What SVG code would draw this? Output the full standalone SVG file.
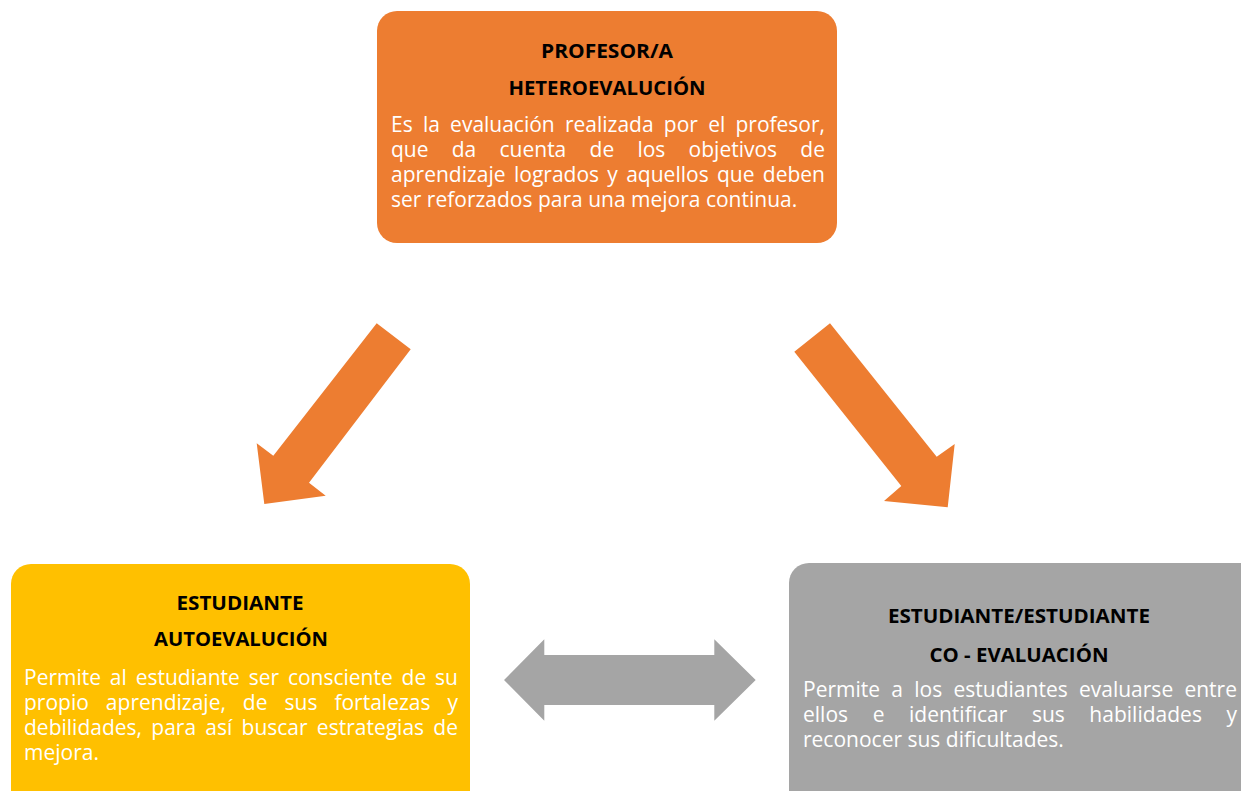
<svg xmlns="http://www.w3.org/2000/svg" width="1241" height="791" viewBox="0 0 1241 791">
<style>
.title{font-family:"Open Sans","Liberation Sans",sans-serif;font-weight:bold;font-size:20px;fill:#000;text-anchor:middle}
.body{font-family:"Open Sans","Liberation Sans",sans-serif;font-size:21px;fill:#fff}
.orange{fill:#ED7D31}
.gray{fill:#A5A5A5}
</style>
<rect width="1241" height="791" fill="#fff"/>
<g id="node-profesor">
<rect x="377" y="11" width="460" height="232" rx="20" class="orange"/>
<text class="title" x="607" y="58" textLength="132" lengthAdjust="spacingAndGlyphs">PROFESOR/A</text>
<text class="title" x="607" y="95" textLength="197" lengthAdjust="spacingAndGlyphs">HETEROEVALUCIÓN</text>
<text class="body" x="391" y="132" word-spacing="4.8" textLength="434" lengthAdjust="spacing">Es la evaluación realizada por el profesor,</text>
<text class="body" x="391" y="157" word-spacing="17.8" textLength="434" lengthAdjust="spacing">que da cuenta de los objetivos de</text>
<text class="body" x="391" y="182" word-spacing="2.8" textLength="434" lengthAdjust="spacing">aprendizaje logrados y aquellos que deben</text>
<text class="body" x="391" y="207">ser reforzados para una mejora continua.</text>
</g>
<g id="node-estudiante">
<rect x="11" y="564" width="459" height="260" rx="20" fill="#FFC000"/>
<text class="title" x="240" y="610" textLength="127" lengthAdjust="spacingAndGlyphs">ESTUDIANTE</text>
<text class="title" x="241" y="646" textLength="174" lengthAdjust="spacingAndGlyphs">AUTOEVALUCIÓN</text>
<text class="body" x="24" y="685" word-spacing="3.4" textLength="434" lengthAdjust="spacing">Permite al estudiante ser consciente de su</text>
<text class="body" x="24" y="710" word-spacing="11.5" textLength="434" lengthAdjust="spacing">propio aprendizaje, de sus fortalezas y</text>
<text class="body" x="24" y="735" word-spacing="3.8" textLength="434" lengthAdjust="spacing">debilidades, para así buscar estrategias de</text>
<text class="body" x="24" y="760">mejora.</text>
</g>
<g id="node-coevaluacion">
<rect x="789" y="563" width="480" height="260" rx="20" class="gray"/>
<text class="title" x="1019" y="623" textLength="262" lengthAdjust="spacingAndGlyphs">ESTUDIANTE/ESTUDIANTE</text>
<text class="title" x="1019" y="662" textLength="179" lengthAdjust="spacingAndGlyphs">CO - EVALUACIÓN</text>
<text class="body" x="803" y="697" word-spacing="5.8" textLength="434" lengthAdjust="spacing">Permite a los estudiantes evaluarse entre</text>
<text class="body" x="803" y="722" word-spacing="19.1" textLength="434" lengthAdjust="spacing">ellos e identificar sus habilidades y</text>
<text class="body" x="803" y="747">reconocer sus dificultades.</text>
</g>
<g id="connectors">
<polygon class="orange" points="376.7,323.3 410.7,349.3 309,482.7 325.7,495.7 264.3,504 256.7,443.3 273.3,455.7"/>
<polygon class="orange" points="830,323.3 794.3,351.7 901.3,486 884,501 947.7,507.3 954.7,444 936.7,456.7"/>
<polygon class="gray" points="504,680 544.3,639.3 544.3,655 714.3,655 714.3,639.3 755.7,680 714.3,720.7 714.3,705 544.3,705 544.3,720.7"/>
</g>
</svg>
